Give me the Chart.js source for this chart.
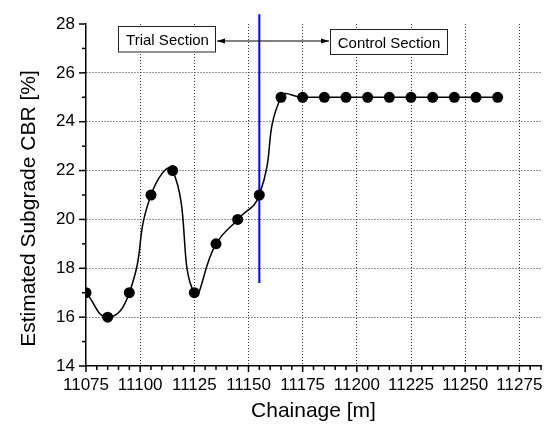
<!DOCTYPE html>
<html>
<head>
<meta charset="utf-8">
<script src="https://cdn.jsdelivr.net/npm/chart.js@4.4.1/dist/chart.umd.min.js"></script>
<style>
  html, body { margin: 0; padding: 0; background: #fff; }
  #wrap { width: 550px; height: 426px; }
</style>
</head>
<body>
<div id="wrap"><canvas id="c" width="550" height="426"></canvas></div>
<script>
// ---- data ----
const chainage = [11075, 11085, 11095, 11105, 11115, 11125, 11135, 11145, 11155, 11165,
                  11175, 11185, 11195, 11205, 11215, 11225, 11235, 11245, 11255, 11265];
const cbr      = [17, 16, 17, 21, 22, 17, 19, 20, 21, 25,
                  25, 25, 25, 25, 25, 25, 25, 25, 25, 25];
const dividerX = [11155, 11155];
const dividerY = [17.4, 28.4];
const xTickLabels = [11075, 11100, 11125, 11150, 11175, 11200, 11225, 11250, 11275];
const yTickLabels = [14, 16, 18, 20, 22, 24, 26, 28];
const xTitle = 'Chainage [m]';
const yTitle = 'Estimated Subgrade CBR [%]';
const trialLabel = 'Trial Section';
const controlLabel = 'Control Section';

const FONT = '"Liberation Sans", Arial, sans-serif';

const gridColor = '#333';

const decor = {
  id: 'decor',
  afterDraw(chart) {
    const ctx = chart.ctx;
    const xs = chart.scales.x, ys = chart.scales.y;
    const area = chart.chartArea;
    ctx.save();
    ctx.strokeStyle = '#000';
    ctx.lineWidth = 1.5;
    // x ticks
    for (let v = xs.min; v <= xs.max + 1e-6; v += 5) {
      const px = xs.getPixelForValue(v);
      const len = (v % 25 === 0) ? 6 : 4;
      ctx.beginPath();
      ctx.moveTo(px, area.bottom);
      ctx.lineTo(px, area.bottom + len);
      ctx.stroke();
    }
    // y ticks
    for (let v = ys.min; v <= ys.max + 1e-6; v += 1) {
      const py = ys.getPixelForValue(v);
      const len = (v % 2 === 0) ? 7 : 4;
      ctx.beginPath();
      ctx.moveTo(area.left, py);
      ctx.lineTo(area.left - len, py);
      ctx.stroke();
    }
    // axis titles
    ctx.fillStyle = '#000';
    ctx.font = '21px ' + FONT;
    ctx.textAlign = 'center';
    ctx.textBaseline = 'alphabetic';
    ctx.fillText(xTitle, (area.left + area.right) / 2, 417);
    ctx.save();
    ctx.translate(35, 208.5);
    ctx.rotate(-Math.PI / 2);
    ctx.fillText(yTitle, 0, 0);
    ctx.restore();

    // annotation boxes
    ctx.font = '15px ' + FONT;
    ctx.lineWidth = 1;
    ctx.strokeStyle = '#222';
    ctx.fillStyle = '#fff';
    ctx.fillRect(118.5, 26.5, 97, 25.5);
    ctx.strokeRect(118.5, 26.5, 97, 25.5);
    ctx.fillRect(330.5, 29.5, 117, 25);
    ctx.strokeRect(330.5, 29.5, 117, 25);
    ctx.fillStyle = '#000';
    ctx.fillText(trialLabel, 167.5, 44.5);
    ctx.fillText(controlLabel, 389, 47.5);

    // double arrow
    ctx.strokeStyle = '#000';
    ctx.lineWidth = 1;
    ctx.beginPath();
    ctx.moveTo(217, 41);
    ctx.lineTo(329, 41);
    ctx.stroke();
    ctx.beginPath();
    ctx.moveTo(217, 41); ctx.lineTo(225, 38.5); ctx.lineTo(225, 43.5); ctx.closePath();
    ctx.fill();
    ctx.beginPath();
    ctx.moveTo(329, 41); ctx.lineTo(321, 38.5); ctx.lineTo(321, 43.5); ctx.closePath();
    ctx.fill();
    ctx.restore();
  }
};

new Chart(document.getElementById('c'), {
  type: 'scatter',
  data: {
    datasets: [
      {
        data: chainage.map((x, i) => ({ x, y: cbr[i] })),
        showLine: true,
        borderColor: '#000',
        borderWidth: 1.5,
        tension: 0.5,
        pointRadius: 5.5,
        pointBackgroundColor: '#000',
        pointBorderWidth: 0,
        pointHoverRadius: 5.5,
        order: 1
      },
      {
        data: dividerX.map((x, i) => ({ x, y: dividerY[i] })),
        showLine: true,
        borderColor: '#0000ff',
        borderWidth: 2,
        pointRadius: 0,
        clip: false,
        order: 2
      }
    ]
  },
  options: {
    responsive: false,
    animation: false,
    events: [],
    layout: { padding: { left: 0, top: 24, right: 3, bottom: 0 } },
    plugins: { legend: { display: false }, tooltip: { enabled: false } },
    scales: {
      x: {
        type: 'linear',
        min: 11075, max: 11285,
        afterFit(s) { s.height = 60; },
        afterBuildTicks(s) {
          const t = [];
          for (let v = 11075; v <= 11285; v += 5) t.push({ value: v });
          s.ticks = t;
        },
        ticks: {
          autoSkip: false, maxRotation: 0, padding: 9,
          color: '#000',
          font: { family: FONT, size: 17 },
          callback: (v) => xTickLabels.includes(v) ? String(v) : ''
        },
        grid: {
          drawTicks: false,
          lineWidth: 1,
          color: (c) => (c.tick && c.tick.value % 25 === 0 && c.tick.value > 11075 && c.tick.value < 11285) ? gridColor : 'rgba(0,0,0,0)'
        },
        border: { display: true, color: '#000', width: 1.5, dash: [1, 2] }
      },
      y: {
        type: 'linear',
        min: 14, max: 28,
        afterFit(s) { s.width = 86; },
        afterBuildTicks(s) {
          const t = [];
          for (let v = 14; v <= 28; v += 1) t.push({ value: v });
          s.ticks = t;
        },
        ticks: {
          autoSkip: false, padding: 11,
          color: '#000',
          font: { family: FONT, size: 17 },
          callback: (v) => yTickLabels.includes(v) ? String(v) : ''
        },
        grid: {
          drawTicks: false,
          lineWidth: 1,
          color: (c) => (c.tick && c.tick.value % 2 === 0 && c.tick.value > 14 && c.tick.value < 28) ? gridColor : 'rgba(0,0,0,0)'
        },
        border: { display: true, color: '#000', width: 1.5, dash: [1, 2] }
      }
    }
  },
  plugins: [decor]
});
</script>
</body>
</html>
